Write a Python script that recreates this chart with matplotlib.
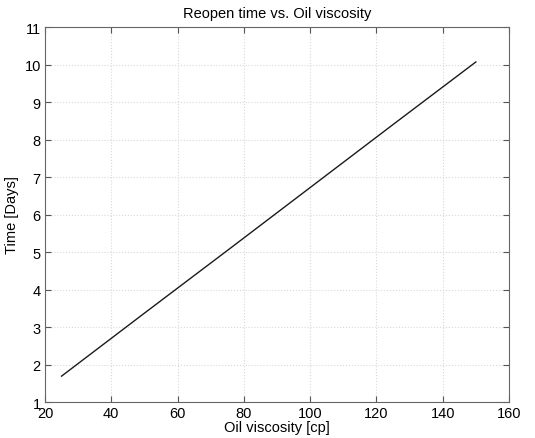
import matplotlib.pyplot as plt

plt.rcParams['font.family'] = ['Liberation Sans', 'DejaVu Sans']

viscosity = [25, 50, 75, 100, 125, 150]
reopen_days = [1.69, 3.37, 5.04, 6.72, 8.40, 10.07]

fig = plt.figure(figsize=(5.35, 4.39), dpi=100)
ax = fig.add_axes([0.0841, 0.082, 0.8673, 0.854])

ax.plot(viscosity, reopen_days, color='#1a1a1a', linewidth=1.0)

ax.set_xlim(20, 160)
ax.set_ylim(1, 11)
ax.set_xticks(range(20, 161, 20))
ax.set_yticks(range(1, 12))
ax.grid(True, color='#d9d9d9', linestyle=':', linewidth=0.8)
ax.tick_params(direction='in', top=True, right=True, labelsize=10.5,
               length=4, color='#555555', pad=3)
for s in ax.spines.values():
    s.set_color('#666666')

ax.set_title('Reopen time vs. Oil viscosity', fontsize=10.5, pad=7)
ax.set_xlabel('Oil viscosity [cp]', fontsize=10.5, labelpad=0)
ax.set_ylabel('Time [Days]', fontsize=10.5, labelpad=4)

fig.savefig('out.png', dpi=100)
